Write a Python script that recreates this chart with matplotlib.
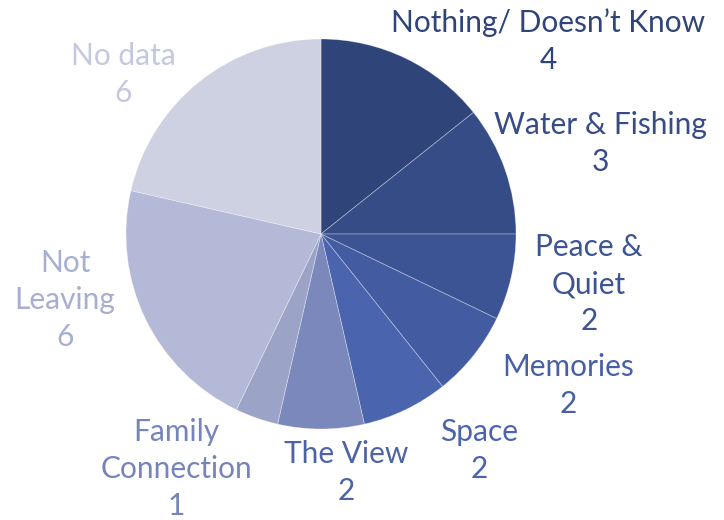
import matplotlib.pyplot as plt

labels = ['Nothing/ Doesn\u2019t Know', 'Water & Fishing', 'Peace &\nQuiet', 'Memories',
          'Space', 'The View', 'Family\nConnection', 'Not\nLeaving', 'No data']
values = [4, 3, 2, 2, 2, 2, 1, 6, 6]

slice_colors = ['#2f4479', '#364c86', '#3d5494', '#435ba1', '#4a65ae',
                '#7b88bb', '#9ba4c7', '#b3b9d6', '#cdd1e2']
text_colors = ['#2f4479', '#364c86', '#3d5494', '#4660a8', '#4a65ae',
               '#4d63a8', '#7584bb', '#a7afd1', '#c3c8de']

# label centre x and first-line baseline y (pixels from top)
label_pos = [(548, 32), (600, 134), (589, 256), (568, 376), (479, 441),
             (346, 463), (176, 441), (65, 272), (123, 65)]
pitch = 37

fig = plt.figure(figsize=(7.24, 5.2), dpi=100)
ax = fig.add_axes([0, 0, 1, 1])

ax.pie(values, colors=slice_colors, startangle=90, counterclock=False,
       center=(321, 520 - 234), radius=195,
       wedgeprops=dict(linewidth=0.6, edgecolor=(1, 1, 1, 0.35)))
ax.set_xlim(0, 724)
ax.set_ylim(0, 520)
ax.set_aspect('equal')
ax.axis('off')

for lab, v, (x, y), c in zip(labels, values, label_pos, text_colors):
    lines = lab.split('\n') + [str(v)]
    for i, line in enumerate(lines):
        ax.text(x, 520 - (y + i * pitch), line, ha='center', va='baseline',
                fontsize=21.5, family='Lato', color=c)

fig.savefig('out.png', dpi=100)
